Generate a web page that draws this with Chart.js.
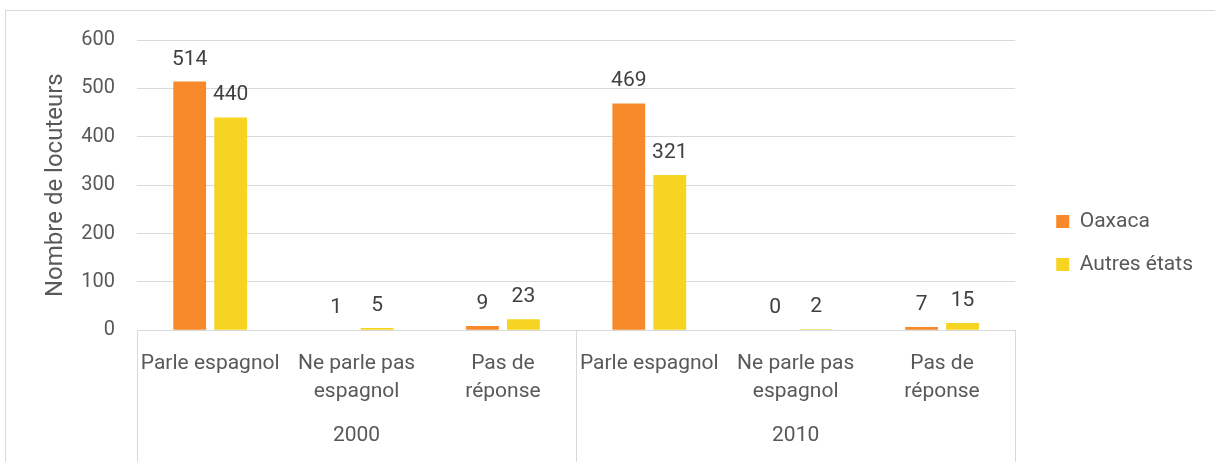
<!DOCTYPE html>
<html>
<head>
<meta charset="utf-8">
<script src="https://cdn.jsdelivr.net/npm/chart.js@4"></script>
<style>
  html, body { margin: 0; padding: 0; background: #fff; }
  body { width: 1215px; height: 462px; overflow: hidden; position: relative; }
  #frame { position: absolute; left: 5px; top: 10px; width: 1240px; height: 480px; border: 1px solid #d9d9d9; }
  #wrap { position: absolute; left: 0; top: 0; width: 1215px; height: 462px; }
</style>
</head>
<body>
<div id="frame"></div>
<div id="wrap"><canvas id="chart" width="1215" height="462"></canvas></div>
<script>
const categories = [
    "Parle espagnol", ["Ne parle pas", "espagnol"], ["Pas de", "réponse"],
    "Parle espagnol", ["Ne parle pas", "espagnol"], ["Pas de", "réponse"]
];
const years = ["2000", "2010"];
const oaxaca = [514, 1, 9, 469, 0, 7];
const autresEtats = [440, 5, 23, 321, 2, 15];
const yTicks = [0, 100, 200, 300, 400, 500, 600];

const textColor = "#595959";
const gridColor = "#d9d9d9";
const fontFamily = "Roboto, 'Noto Sans', sans-serif";

// values written above each bar
const barLabels = {
    id: "barLabels",
    afterDatasetsDraw(chart) {
        const ctx = chart.ctx;
        ctx.save();
        ctx.font = "21px " + fontFamily;
        ctx.fillStyle = "#404040";
        ctx.textAlign = "center";
        ctx.textBaseline = "alphabetic";
        chart.data.datasets.forEach((ds, i) => {
            chart.getDatasetMeta(i).data.forEach((bar, j) => {
                ctx.fillText(String(ds.data[j]), bar.x, bar.y - 17);
            });
        });
        ctx.restore();
    }
};

// vertical separators between the year groups
const groupLines = {
    id: "groupLines",
    afterDraw(chart) {
        const xs = chart.scales.x;
        const ctx = chart.ctx;
        const mid = (xs.getPixelForValue(2) + xs.getPixelForValue(3)) / 2;
        ctx.save();
        ctx.strokeStyle = gridColor;
        ctx.lineWidth = 1;
        [xs.left, mid, xs.right].forEach(x => {
            ctx.beginPath();
            ctx.moveTo(Math.round(x) + 0.5, chart.chartArea.bottom);
            ctx.lineTo(Math.round(x) + 0.5, chart.height);
            ctx.stroke();
        });
        ctx.restore();
    }
};

new Chart(document.getElementById("chart"), {
    type: "bar",
    data: {
        labels: categories,
        datasets: [
            { label: "Oaxaca", data: oaxaca, backgroundColor: "#F8892A" },
            { label: "Autres états", data: autresEtats, backgroundColor: "#F6D421" }
        ]
    },
    options: {
        responsive: false,
        animation: false,
        devicePixelRatio: 1,
        layout: { padding: { left: 42, top: 40, right: 12, bottom: 16 } },
        datasets: {
            bar: { barPercentage: 0.8, categoryPercentage: 0.56 }
        },
        scales: {
            y: {
                min: 0,
                max: 600,
                afterBuildTicks: (s) => { s.ticks = yTicks.map(v => ({ value: v })); },
                afterFit: (s) => { s.width = 95; },
                grid: { color: gridColor, drawTicks: false },
                border: { display: false },
                ticks: { color: textColor, font: { family: fontFamily, size: 20 }, padding: 22 },
                title: {
                    display: true,
                    text: "Nombre de locuteurs",
                    color: textColor,
                    font: { family: fontFamily, size: 24 },
                    padding: { top: 0, bottom: 8 }
                }
            },
            // empty spacer between plot and legend
            gap: {
                type: "linear",
                position: "right",
                grid: { display: false, drawTicks: false },
                border: { display: false },
                ticks: { display: false },
                afterFit: (s) => { s.width = 19; }
            },
            x: {
                grid: { display: false, drawTicks: false },
                border: { display: true, color: gridColor },
                ticks: {
                    color: textColor,
                    font: { family: fontFamily, size: 21, lineHeight: 1.35 },
                    padding: 19,
                    maxRotation: 0,
                    autoSkip: false
                }
            },
            xYear: {
                type: "category",
                position: "bottom",
                labels: years,
                offset: true,
                weight: 1,
                grid: { display: false, drawTicks: false },
                border: { display: false },
                ticks: { color: textColor, font: { family: fontFamily, size: 21, lineHeight: 1 }, padding: 0 }
            }
        },
        plugins: {
            legend: {
                position: "right",
                labels: {
                    color: textColor,
                    font: { family: fontFamily, size: 21 },
                    boxWidth: 13,
                    boxHeight: 13,
                    padding: 22
                }
            },
            tooltip: { enabled: false }
        }
    },
    plugins: [barLabels, groupLines]
});
</script>
</body>
</html>
